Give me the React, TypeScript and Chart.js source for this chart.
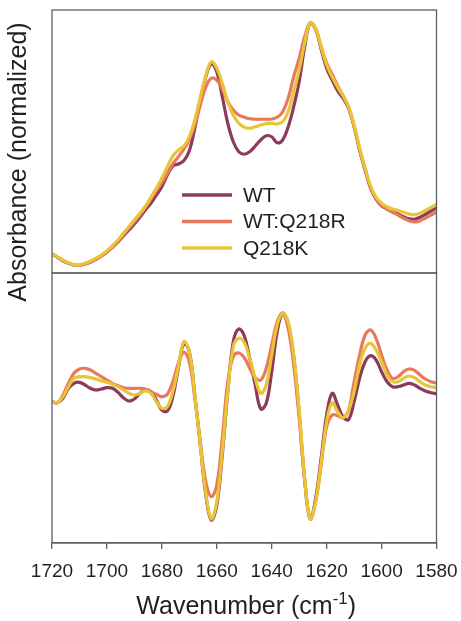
import { useEffect, useRef } from "react";
import { Chart, registerables } from "chart.js";

Chart.register(...registerables);

// Wavenumbers (cm-1), shared by both panels
const WAVENUMBERS = [
  1720, 1718, 1716, 1714, 1712, 1710, 1708, 1706, 1704, 1702,
  1700, 1698, 1696, 1694, 1692, 1690, 1688, 1686, 1684, 1682,
  1680, 1678, 1676, 1674, 1672, 1670, 1668, 1666, 1664, 1662,
  1660, 1658, 1656, 1654, 1652, 1650, 1648, 1646, 1644, 1642,
  1640, 1638, 1636, 1634, 1632, 1630, 1628, 1626, 1624, 1622,
  1620, 1618, 1616, 1614, 1612, 1610, 1608, 1606, 1604, 1602,
  1600, 1598, 1596, 1594, 1592, 1590, 1588, 1586, 1584, 1582,
  1580,
];

// Top panel: normalized absorbance (peak = 100)
const WT_ABS = [
  7.6, 6.3, 4.9, 3.9, 3.2, 3.1, 3.6, 4.4, 5.5, 6.8,
  8.4, 10.3, 12.4, 14.8, 17.2, 19.6, 22.3, 25.2, 27.9, 31.2,
  34.5, 39.2, 42.8, 43.6, 44.9, 48.9, 57.9, 69.2, 78.5, 83.6,
  80.5, 70.5, 59.9, 52.5, 48.5, 47.5, 48.5, 50.8, 53.2, 54.9,
  54.5, 52.1, 53.2, 58.5, 66.5, 76.5, 90.5, 100, 97.5, 89.5,
  81.9, 77.2, 72.9, 69.9, 65.9, 58.5, 49.2, 41.2, 33.9, 29.5,
  26.9, 25.6, 24.5, 23.6, 22.5, 21.7, 21.5, 22.3, 23.5, 24.8,
  26.0,
];
const QR_ABS = [
  7.6, 6.3, 4.9, 3.9, 3.2, 3.1, 3.6, 4.4, 5.5, 6.8,
  8.5, 10.5, 12.7, 15.2, 17.9, 20.5, 23.2, 26.3, 29.5, 32.9,
  36.1, 39.9, 43.6, 46.5, 49.5, 53.5, 59.2, 67.2, 74.3, 77.9,
  77.2, 73.5, 68.5, 65.2, 63.2, 62.3, 61.7, 61.5, 61.5, 61.5,
  61.6, 62.3, 64.5, 69.9, 78.5, 85.9, 94.5, 100, 97.5, 90.5,
  84.0, 79.5, 74.9, 70.9, 66.3, 58.9, 49.6, 41.6, 34.3, 29.9,
  27.2, 25.6, 24.3, 23.2, 21.9, 20.9, 20.4, 20.9, 22.0, 23.2,
  24.4,
];
const QK_ABS = [
  7.9, 6.5, 5.2, 4.1, 3.3, 3.2, 3.9, 4.8, 5.9, 7.2,
  8.9, 10.9, 13.2, 15.9, 18.5, 21.2, 23.9, 26.7, 30.3, 33.9,
  37.9, 42.5, 46.8, 49.1, 50.8, 54.5, 61.2, 70.3, 78.8, 84.5,
  81.9, 75.9, 68.5, 63.2, 59.9, 58.3, 57.9, 58.5, 59.2, 59.7,
  59.9, 59.6, 60.5, 64.5, 72.5, 81.2, 92.0, 100, 98.0, 90.5,
  83.2, 78.5, 74.3, 70.8, 66.5, 59.2, 50.0, 42.0, 34.7, 30.3,
  27.9, 26.5, 25.6, 25.0, 24.3, 23.6, 23.3, 23.9, 25.1, 26.2,
  27.4,
];

// Bottom panel: second derivative (arbitrary units)
const WT_D2 = [
  1.3, 0.3, 4.7, 14.7, 19.7, 20.7, 18.0, 14.7, 13.0, 14.0,
  15.3, 14.7, 10.7, 5.3, 2.0, 4.0, 9.7, 13.0, 11.3, 3.0,
  -7.0, -8.0, 6.3, 34.7, 59.7, 51.3, 8.0, -42.0, -92.0, -117.0,
  -102.0, -52.0, 11.3, 61.3, 74.0, 67.3, 44.7, 18.0, -6.0, -0.3,
  31.3, 71.3, 89.7, 78.0, 46.3, -10.3, -77.0, -116.0, -95.3, -55.3,
  -12.0, 9.7, -2.0, -14.0, -16.5, 1.3, 24.7, 41.3, 47.3, 43.0,
  31.3, 21.3, 16.3, 16.3, 18.0, 19.7, 18.0, 14.7, 12.0, 10.3,
  9.3,
];
const QR_D2 = [
  1.3, 0.3, 8.0, 19.7, 29.7, 34.0, 34.7, 33.0, 29.7, 26.3,
  23.0, 19.7, 17.3, 15.3, 14.7, 14.7, 14.7, 14.0, 11.3, 8.7,
  6.3, 8.7, 21.3, 39.7, 50.7, 41.3, 4.7, -38.7, -78.7, -93.7,
  -82.0, -35.3, 21.3, 46.3, 50.0, 45.3, 34.7, 25.3, 23.0, 34.7,
  58.0, 81.3, 89.7, 74.7, 38.0, -15.3, -77.0, -115.3, -98.7, -62.0,
  -23.7, -12.0, -12.7, -14.7, -7.0, 21.3, 48.0, 68.0, 73.0, 64.7,
  48.0, 33.0, 24.7, 26.3, 31.3, 34.0, 32.7, 28.0, 24.0, 21.3,
  20.0,
];
const QK_D2 = [
  1.3, 0.3, 6.3, 16.3, 24.7, 26.3, 26.3, 25.3, 24.0, 22.0,
  20.7, 18.7, 16.3, 13.0, 9.7, 8.0, 9.7, 12.0, 9.7, 1.3,
  -5.3, -3.7, 11.3, 36.3, 61.3, 51.3, 8.0, -42.0, -90.3, -116.0,
  -98.7, -48.7, 11.3, 56.3, 64.7, 60.7, 44.7, 24.7, 9.7, 18.0,
  48.0, 78.0, 89.7, 81.3, 48.0, -7.0, -75.3, -116.0, -98.7, -60.3,
  -18.7, 0.3, -8.7, -14.7, -7.0, 11.3, 38.0, 54.7, 59.7, 53.0,
  41.3, 28.0, 21.3, 21.3, 24.7, 27.0, 25.3, 21.3, 18.0, 16.3,
  15.3,
];

const X_TICKS = [1720, 1700, 1680, 1660, 1640, 1620, 1600, 1580];
const SERIES_NAMES = ["WT", "WT:Q218R", "Q218K"];
const SERIES_COLORS = ["#8c3a5e", "#e8795b", "#e8c534"];
const Y_TITLE = "Absorbance (normalized)";
const X_TITLE = "Wavenumber (cm";
const X_TITLE_SUP = "-1";

const FONT = '"Liberation Sans", Arial, sans-serif';
const TEXT_COLOR = "#231f20";
const FRAME_COLOR = "#56606a";

function toPoints(values: number[]) {
  return WAVENUMBERS.map((w, i) => ({ x: w, y: values[i] }));
}

const decorPlugin = {
  id: "decor",
  afterDraw(chart: any) {
    const { ctx, chartArea } = chart;
    const top = chart.scales.yTop;
    const bot = chart.scales.yBot;
    ctx.save();
    // panel frames
    ctx.strokeStyle = FRAME_COLOR;
    ctx.lineWidth = 1.3;
    [top, bot].forEach((s: any) => {
      ctx.strokeRect(chartArea.left, s.top, chartArea.right - chartArea.left, s.bottom - s.top);
    });

    // legend inside top panel
    ctx.font = `21px ${FONT}`;
    ctx.textBaseline = "middle";
    ctx.textAlign = "left";
    const lx = chartArea.left + 130;
    const ly = top.top + 185;
    SERIES_NAMES.forEach((name, i) => {
      const y = ly + i * 26.5;
      ctx.strokeStyle = SERIES_COLORS[i];
      ctx.lineWidth = 3.5;
      ctx.beginPath();
      ctx.moveTo(lx, y);
      ctx.lineTo(lx + 50, y);
      ctx.stroke();
      ctx.fillStyle = TEXT_COLOR;
      ctx.fillText(name, lx + 61, y + 1);
    });

    // y title
    ctx.save();
    ctx.translate(19, 162);
    ctx.rotate(-Math.PI / 2);
    ctx.textAlign = "center";
    ctx.textBaseline = "middle";
    ctx.font = `25px ${FONT}`;
    ctx.fillStyle = TEXT_COLOR;
    ctx.fillText(Y_TITLE, 0, 0);
    ctx.restore();

    // x title with superscript
    const mainFont = `25px ${FONT}`;
    const supFont = `17px ${FONT}`;
    ctx.font = mainFont;
    const w1 = ctx.measureText(X_TITLE).width;
    const w3 = ctx.measureText(")").width;
    ctx.font = supFont;
    const w2 = ctx.measureText(X_TITLE_SUP).width;
    const total = w1 + w2 + w3;
    const cx = (chartArea.left + chartArea.right) / 2 + 2;
    let x = cx - total / 2;
    const base = 614;
    ctx.textAlign = "left";
    ctx.textBaseline = "alphabetic";
    ctx.fillStyle = TEXT_COLOR;
    ctx.font = mainFont;
    ctx.fillText(X_TITLE, x, base);
    x += w1;
    ctx.font = supFont;
    ctx.fillText(X_TITLE_SUP, x, base - 10);
    x += w2;
    ctx.font = mainFont;
    ctx.fillText(")", x, base);
    ctx.restore();
  },
};

export default function App() {
  const ref = useRef<HTMLCanvasElement>(null);

  useEffect(() => {
    document.body.style.margin = "0";
    const canvas = ref.current;
    if (!canvas) return;

    const lineDs = (label: string, values: number[], idx: number, axis: string) => ({
      label,
      data: toPoints(values),
      yAxisID: axis,
      borderColor: SERIES_COLORS[idx],
      backgroundColor: SERIES_COLORS[idx],
      borderWidth: 3.2,
      pointRadius: 0,
      tension: 0.4,
      fill: false,
      order: 2 - idx,
    });

    const chart = new Chart(canvas, {
      type: "line",
      data: {
        datasets: [
          lineDs(SERIES_NAMES[0], WT_ABS, 0, "yTop"),
          lineDs(SERIES_NAMES[1], QR_ABS, 1, "yTop"),
          lineDs(SERIES_NAMES[2], QK_ABS, 2, "yTop"),
          lineDs(SERIES_NAMES[0], WT_D2, 0, "yBot"),
          lineDs(SERIES_NAMES[1], QR_D2, 1, "yBot"),
          lineDs(SERIES_NAMES[2], QK_D2, 2, "yBot"),
        ],
      },
      options: {
        responsive: false,
        animation: false,
        events: [],
        layout: { padding: { left: 52, right: 24.5, top: 10, bottom: 0 } },
        plugins: {
          legend: { display: false },
          tooltip: { enabled: false },
        },
        scales: {
          x: {
            type: "linear",
            reverse: true,
            min: 1580,
            max: 1720,
            afterBuildTicks: (s: any) => {
              s.ticks = X_TICKS.map((v) => ({ value: v }));
            },
            ticks: {
              font: { family: FONT, size: 19 },
              color: TEXT_COLOR,
              padding: 11,
              maxRotation: 0,
              autoSkip: false,
              callback: (v: any) => String(v),
            },
            grid: {
              drawOnChartArea: false,
              drawTicks: true,
              tickLength: 6,
              color: FRAME_COLOR,
              lineWidth: 1.3,
            },
            border: { display: true, color: FRAME_COLOR, width: 1.3 },
            afterFit: (s: any) => {
              s.height = 78;
              s.paddingLeft = 0;
              s.paddingRight = 0;
            },
          },
          yBot: {
            type: "linear",
            position: "left",
            stack: "panels",
            stackWeight: 270,
            min: -140,
            max: 130,
            ticks: { display: false },
            grid: { display: false, drawTicks: false },
            border: { display: false },
            afterFit: (s: any) => {
              s.width = 0;
            },
          },
          yTop: {
            type: "linear",
            position: "left",
            stack: "panels",
            stackWeight: 263,
            min: 0,
            max: 105.2,
            ticks: { display: false },
            grid: { display: false, drawTicks: false },
            border: { display: false },
            afterFit: (s: any) => {
              s.width = 0;
            },
          },
        },
      } as any,
      plugins: [decorPlugin],
    });

    return () => chart.destroy();
  }, []);

  return (
    <div style={{ width: 461, height: 621, background: "#fff" }}>
      <canvas ref={ref} width={461} height={621} style={{ display: "block" }} />
    </div>
  );
}
